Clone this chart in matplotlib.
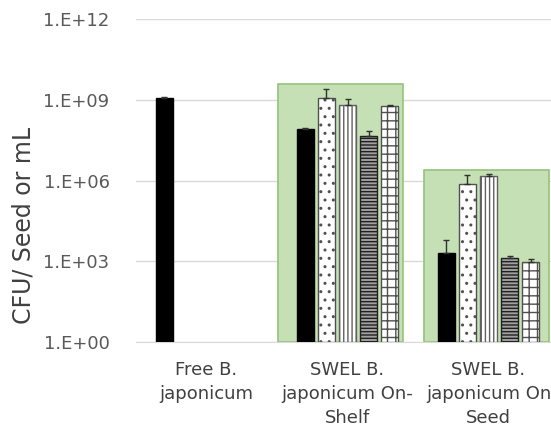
import numpy as np
import matplotlib.pyplot as plt
from matplotlib.patches import Rectangle

# categories and five series (upward error bars only)
categories = ["Free B.\njaponicum", "SWEL B.\njaponicum On-\nShelf", "SWEL B.\njaponicum On\nSeed"]
solid = [1.15e9, 8.5e7, 2.1e3]
dots = [np.nan, 1.2e9, 7.4e5]
vert = [np.nan, 6.5e8, 1.5e6]
horiz = [np.nan, 4.5e7, 1.3e3]
brick = [np.nan, 5.8e8, 9.1e2]
solid_err = [0.15e9, 0.5e7, 4.1e3]
dots_err = [np.nan, 1.3e9, 8.6e5]
vert_err = [np.nan, 3.9e8, 0.2e6]
horiz_err = [np.nan, 2.2e7, 0.3e3]
brick_err = [np.nan, 0.7e8, 2.7e2]

# green highlight boxes (category index range, top value)
box_from = [0.51, 1.546]
box_to = [1.397, 2.426]
box_top = [4e9, 2.5e6]

yticks = [1e0, 1e3, 1e6, 1e9, 1e12]
ytick_labels = ["1.E+00", "1.E+03", "1.E+06", "1.E+09", "1.E+12"]

plt.rcParams["font.family"] = "DejaVu Sans"
plt.rcParams["hatch.linewidth"] = 1.0

fig = plt.figure(figsize=(5.51, 4.26), dpi=100)
ax = fig.add_axes([136 / 551, 1 - 342 / 426, (559 - 136) / 551, 323 / 426])

ax.set_yscale("log")
ax.set_ylim(1, 1e12)
ax.set_xlim(-0.5, 2.5)

for x0, x1, top in zip(box_from, box_to, box_top):
    ax.add_patch(Rectangle((x0, 1), x1 - x0, top - 1, facecolor="#c5e0b4",
                           edgecolor="#93c47d", lw=1.2, zorder=1))

x = np.arange(len(categories))
pitch = 0.15
w = 0.12
styles = [
    (solid, solid_err, dict(facecolor="black", edgecolor="black")),
    (dots, dots_err, dict(facecolor="white", edgecolor="#505050", hatch="..")),
    (vert, vert_err, dict(facecolor="white", edgecolor="#606060", hatch="||||")),
    (horiz, horiz_err, dict(facecolor="#a0a0a0", edgecolor="#202020", hatch="-----")),
    (brick, brick_err, dict(facecolor="white", edgecolor="#505050", hatch="++")),
]
for i, (vals, err, kw) in enumerate(styles):
    xi = x + (i - 2) * pitch
    vals = np.array(vals, dtype=float)
    err = np.array(err, dtype=float)
    ok = ~np.isnan(vals)
    ax.bar(xi[ok], vals[ok] - 1, bottom=1, width=w, lw=1.0, zorder=3, **kw)
    ax.errorbar(xi[ok], vals[ok], yerr=[np.zeros(ok.sum()), err[ok]], fmt="none",
                ecolor="#303030", elinewidth=1.0, capsize=2.5, capthick=1.0, zorder=4)

ax.set_yticks(yticks)
ax.set_yticklabels(ytick_labels)
ax.minorticks_off()
ax.set_xticks(x)
ax.set_xticklabels(categories, linespacing=1.4)
ax.tick_params(axis="both", length=0, labelsize=13, colors="#595959")
ax.tick_params(axis="x", pad=14, colors="#404040")
ax.tick_params(axis="y", pad=19)
ax.grid(axis="y", color="#d9d9d9", lw=1.0, zorder=0)
ax.set_axisbelow(True)
for s in ["top", "right", "left"]:
    ax.spines[s].set_visible(False)
ax.spines["bottom"].set_color("#d9d9d9")

fig.text(24 / 551, 1 - 225 / 426, "CFU/ Seed or mL", rotation=90, ha="center",
         va="center", fontsize=17, color="#404040")

fig.savefig("out.png", dpi=100)
